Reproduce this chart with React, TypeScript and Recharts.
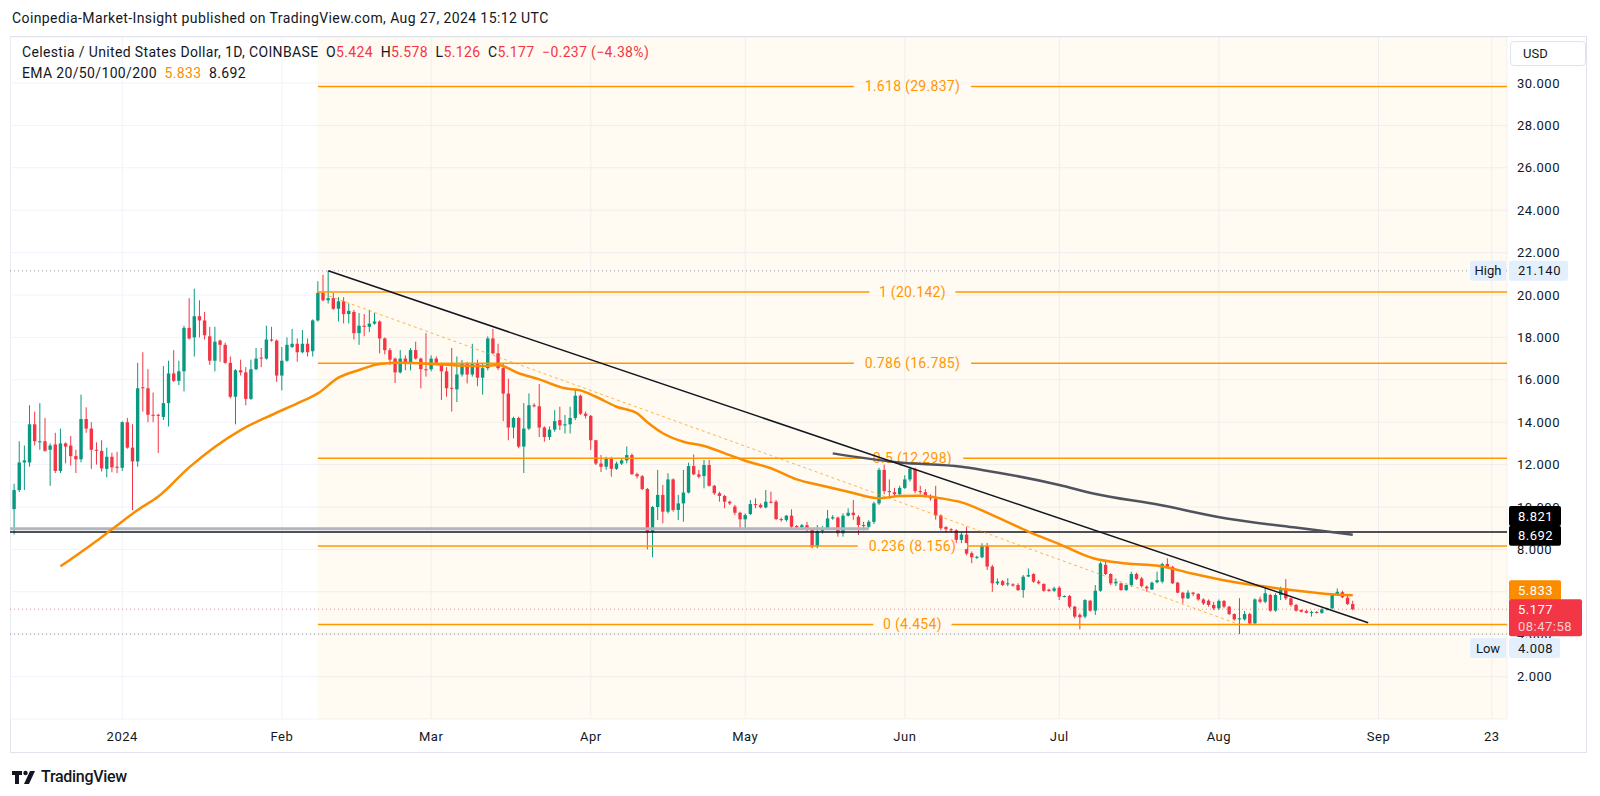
import React from 'react'
import {
  ComposedChart,
  Bar,
  Line,
  XAxis,
  YAxis,
  CartesianGrid,
  ReferenceLine,
  ReferenceArea,
} from 'recharts'

// day 0 = 1 Jan 2024, first candle = 11 Dec 2023
const START_DAY = -21

// daily candles [open, high, low, close]
const candles: [number, number, number, number][] = [
  // Dec 2023
  [9.9, 11.1, 8.7, 10.8], [10.8, 13.1, 10.7, 12.1], [12.1, 12.9, 10.8, 12.2], [12.1, 14.8, 11.9, 13.9],
  [13.9, 14.5, 12.9, 13.1], [13.05, 14.9, 12.7, 13.1], [13.1, 14.2, 12.6, 12.65], [12.7, 13.0, 11.0, 12.9],
  [12.95, 13.5, 11.6, 11.7], [11.7, 13.7, 11.6, 13.0], [13.0, 13.05, 12.06, 12.85], [12.9, 13.35, 11.95, 12.4],
  [12.4, 12.7, 11.6, 12.25], [12.25, 15.3, 12.1, 14.15], [14.15, 14.7, 13.5, 13.7], [13.7, 14.0, 11.8, 12.7],
  [12.7, 13.05, 12.0, 12.65], [12.65, 13.15, 11.67, 11.82], [11.8, 12.8, 11.4, 12.37], [12.37, 12.56, 11.64, 11.87],
  [11.9, 12.6, 11.6, 11.85],
  // Jan
  [11.85, 14.05, 11.7, 14.0], [14.0, 14.2, 12.75, 12.8], [12.8, 13.9, 9.85, 12.15], [12.15, 16.8, 11.9, 15.6],
  [15.65, 17.3, 14.5, 15.6], [15.6, 16.5, 14.0, 14.35], [14.35, 15.4, 14.0, 14.3], [14.35, 14.4, 12.55, 14.3],
  [14.25, 16.65, 14.1, 14.9], [14.9, 16.9, 13.8, 16.3], [16.3, 17.4, 15.9, 15.95], [15.95, 16.9, 15.75, 16.4],
  [16.4, 18.55, 15.45, 18.45], [18.45, 19.85, 17.9, 17.95], [18.0, 20.3, 17.1, 19.0], [19.0, 19.75, 18.0, 18.8],
  [18.8, 19.2, 17.9, 18.1], [18.05, 18.5, 16.7, 16.9], [16.9, 18.5, 16.4, 17.8], [17.85, 17.9, 16.85, 17.65],
  [17.65, 17.75, 16.75, 16.8], [16.8, 17.1, 15.12, 15.2], [15.2, 16.5, 13.9, 16.45], [16.45, 16.95, 16.2, 16.35],
  [16.35, 16.6, 14.8, 15.1], [15.1, 16.95, 15.05, 16.5], [16.5, 17.5, 16.45, 17.0], [17.05, 17.5, 16.6, 17.0],
  [17.0, 18.55, 16.95, 17.9], [17.9, 18.5, 17.8, 17.85], [17.85, 17.9, 15.9, 16.2],
  // Feb
  [16.2, 17.55, 15.5, 16.9], [16.9, 18.0, 16.85, 17.65], [17.55, 18.4, 17.5, 17.7], [17.7, 17.95, 16.85, 17.3],
  [17.3, 18.35, 17.25, 17.7], [17.7, 17.95, 17.1, 17.3], [17.35, 18.85, 17.1, 18.8], [18.8, 20.65, 18.75, 20.1],
  [20.1, 20.95, 19.7, 19.75], [19.75, 21.14, 19.6, 19.85], [19.85, 20.1, 19.3, 19.35], [19.35, 19.9, 18.75, 19.7],
  [19.7, 19.9, 18.66, 19.1], [19.1, 19.6, 18.66, 19.25], [19.2, 19.3, 17.9, 18.2], [18.2, 19.15, 17.65, 18.55],
  [18.55, 19.1, 18.05, 18.5], [18.5, 19.3, 18.25, 18.65], [18.65, 19.15, 18.6, 18.75], [18.75, 18.8, 17.25, 17.95],
  [17.95, 18.0, 17.2, 17.4], [17.4, 17.5, 16.7, 16.95], [17.0, 17.05, 15.85, 16.35], [16.35, 17.4, 16.3, 17.0],
  [17.0, 17.15, 16.45, 16.75], [16.75, 17.5, 16.45, 17.4], [17.4, 17.8, 16.95, 17.0], [17.0, 17.05, 15.6, 16.5],
  [16.5, 18.2, 16.15, 16.45],
  // Mar
  [16.5, 17.15, 16.4, 17.0], [17.0, 17.1, 16.7, 16.8], [16.75, 16.8, 15.05, 16.4], [16.4, 16.6, 15.2, 15.6],
  [15.62, 17.5, 14.5, 15.6], [15.55, 17.1, 14.95, 16.25], [16.25, 16.93, 16.15, 16.75], [16.75, 16.85, 15.83, 16.25],
  [16.25, 17.7, 16.15, 16.75], [16.75, 16.95, 15.7, 16.1], [16.1, 16.8, 15.3, 16.55], [16.55, 18.05, 16.45, 17.95],
  [17.95, 18.4, 17.2, 17.25], [17.25, 17.7, 16.46, 16.55], [16.55, 16.8, 14.05, 15.35], [15.35, 16.05, 13.15, 13.75],
  [13.75, 14.26, 13.24, 14.2], [14.2, 14.26, 12.77, 12.85], [12.85, 14.9, 11.6, 13.7], [13.7, 15.36, 13.63, 14.8],
  [14.8, 14.9, 14.7, 14.75], [14.75, 15.8, 13.3, 13.75], [13.75, 13.8, 13.08, 13.3], [13.3, 13.8, 13.16, 13.65],
  [13.65, 14.57, 13.55, 14.05], [14.1, 14.73, 13.63, 13.85], [13.85, 14.34, 13.47, 13.9], [13.9, 14.73, 13.47, 14.2],
  [14.2, 15.52, 14.1, 15.25], [15.25, 15.3, 14.34, 14.4], [14.4, 14.5, 14.18, 14.3],
  // Apr
  [14.3, 14.34, 12.69, 13.15], [13.15, 13.16, 11.98, 12.05], [12.05, 12.45, 11.65, 11.9], [11.9, 12.37, 11.75, 12.3],
  [12.3, 12.37, 11.43, 11.8], [11.8, 12.14, 11.75, 12.05], [12.05, 12.3, 11.98, 12.2], [12.2, 12.85, 12.06, 12.45],
  [12.45, 12.53, 11.51, 11.55], [11.55, 11.62, 11.35, 11.45], [11.45, 11.51, 10.8, 10.85], [10.85, 10.9, 8.0, 8.8],
  [8.8, 10.05, 7.63, 10.0], [10.0, 11.75, 9.39, 10.57], [10.57, 11.04, 9.23, 9.78], [9.78, 11.59, 9.7, 11.3],
  [11.3, 11.35, 9.78, 9.86], [9.86, 10.57, 9.39, 10.17], [10.17, 11.75, 9.31, 10.68], [10.68, 12.09, 10.64, 11.93],
  [11.93, 12.48, 11.5, 11.54], [11.54, 11.75, 11.35, 11.43], [11.46, 12.22, 10.88, 11.98], [11.98, 12.22, 10.96, 11.0],
  [11.0, 11.04, 10.57, 10.65], [10.65, 10.72, 10.25, 10.52], [10.52, 10.57, 9.94, 10.25], [10.25, 10.3, 10.1, 10.17],
  [10.02, 10.1, 9.62, 9.73], [9.73, 9.78, 8.92, 9.42],
  // May
  [9.42, 9.7, 8.92, 9.62], [9.67, 10.33, 9.62, 10.14], [10.14, 10.41, 9.94, 10.1], [10.1, 10.17, 9.94, 9.98],
  [9.98, 10.8, 9.94, 10.25], [10.25, 10.72, 10.17, 10.2], [10.25, 10.33, 9.39, 9.43], [9.43, 9.5, 9.31, 9.39],
  [9.39, 9.62, 9.31, 9.59], [9.59, 9.89, 8.99, 9.07], [9.1, 9.15, 8.98, 9.04], [9.04, 9.2, 8.98, 9.14],
  [9.14, 9.3, 8.84, 8.92], [8.92, 9.0, 8.05, 8.13], [8.13, 9.15, 8.05, 8.87], [8.87, 9.1, 8.75, 9.0],
  [9.0, 9.86, 8.95, 9.46], [9.46, 9.62, 9.4, 9.52], [9.5, 9.55, 8.6, 8.76], [8.76, 9.7, 8.6, 9.59],
  [9.59, 9.94, 9.55, 9.73], [9.73, 10.33, 9.4, 9.62], [9.54, 9.62, 8.68, 9.15], [9.15, 9.3, 8.9, 9.1],
  [9.07, 9.38, 9.0, 9.3], [9.3, 10.25, 9.2, 10.17], [10.17, 11.85, 10.1, 11.75], [11.75, 12.0, 10.6, 10.75],
  [10.75, 11.3, 10.4, 10.7], [10.7, 10.9, 10.5, 10.6], [10.6, 11.0, 10.5, 10.9],
  // Jun
  [10.9, 11.5, 10.85, 11.3], [11.3, 11.9, 11.2, 11.8], [11.8, 11.85, 10.65, 10.75], [10.75, 11.0, 10.6, 10.7],
  [10.7, 10.85, 10.45, 10.5], [10.5, 10.6, 10.3, 10.4], [10.4, 11.0, 9.4, 9.6], [9.6, 9.65, 8.9, 9.0],
  [9.05, 9.1, 8.8, 8.95], [8.95, 9.0, 8.8, 8.9], [8.9, 8.95, 8.3, 8.45], [8.45, 8.8, 8.2, 8.7],
  [8.7, 9.07, 7.72, 7.8], [7.82, 7.9, 7.35, 7.63], [7.63, 7.7, 7.55, 7.65], [7.63, 8.29, 7.58, 8.18],
  [8.18, 8.3, 7.03, 7.19], [7.19, 7.27, 6.0, 6.4], [6.4, 6.63, 6.32, 6.48], [6.5, 6.56, 6.27, 6.32],
  [6.35, 6.64, 6.27, 6.4], [6.35, 6.4, 6.25, 6.29], [6.32, 6.4, 6.04, 6.08], [6.08, 6.79, 5.72, 6.71],
  [6.72, 7.1, 6.7, 6.79], [6.84, 6.87, 6.43, 6.48], [6.48, 6.56, 6.35, 6.4], [6.37, 6.4, 6.0, 6.05],
  [6.1, 6.15, 6.0, 6.04], [6.05, 6.24, 6.0, 6.16],
  // Jul
  [6.19, 6.27, 5.61, 5.77], [5.77, 5.83, 5.74, 5.8], [5.8, 5.85, 5.22, 5.3], [5.3, 5.33, 4.75, 4.83],
  [4.91, 4.99, 4.23, 4.8], [4.83, 5.65, 4.75, 5.61], [5.58, 5.61, 5.06, 5.11], [5.11, 6.32, 4.91, 6.05],
  [6.05, 7.42, 6.0, 7.34], [7.27, 7.42, 6.79, 6.84], [6.84, 6.87, 6.32, 6.4], [6.4, 6.63, 6.27, 6.48],
  [6.4, 6.43, 6.05, 6.08], [6.08, 6.35, 6.04, 6.32], [6.32, 6.95, 6.24, 6.84], [6.84, 6.9, 6.56, 6.6],
  [6.63, 6.7, 6.2, 6.27], [6.24, 6.3, 6.0, 6.16], [6.11, 6.48, 6.08, 6.43], [6.45, 6.95, 6.4, 6.55],
  [6.48, 7.37, 6.4, 7.31], [7.31, 7.58, 7.15, 7.18], [7.18, 7.22, 6.37, 6.4], [6.43, 6.47, 5.93, 5.96],
  [5.96, 6.0, 5.45, 5.69], [5.69, 6.08, 5.66, 5.96], [5.96, 6.0, 5.8, 5.9], [5.9, 5.93, 5.58, 5.64],
  [5.64, 5.69, 5.38, 5.45], [5.58, 5.64, 5.3, 5.38], [5.38, 5.53, 5.14, 5.22],
  // Aug
  [5.22, 5.64, 5.14, 5.57], [5.57, 5.61, 5.22, 5.3], [5.3, 5.33, 4.9, 4.95], [4.95, 4.98, 4.64, 4.7],
  [4.7, 5.7, 4.008, 4.75], [4.7, 5.1, 4.64, 4.95], [4.95, 5.01, 4.48, 4.51], [4.51, 5.69, 4.48, 5.64],
  [5.64, 5.77, 5.46, 5.53], [5.53, 6.24, 5.46, 5.93], [5.85, 5.9, 5.06, 5.11], [5.11, 5.93, 5.06, 5.85],
  [5.85, 6.24, 5.61, 6.16], [6.16, 6.6, 5.61, 5.69], [5.69, 5.74, 5.3, 5.38], [5.38, 5.43, 5.06, 5.11],
  [5.14, 5.17, 5.03, 5.06], [5.09, 5.14, 4.98, 5.01], [5.01, 5.11, 4.83, 5.05], [5.05, 5.09, 4.98, 5.01],
  [5.01, 5.22, 4.96, 5.17], [5.17, 5.25, 5.12, 5.22], [5.22, 5.93, 5.17, 5.9], [5.9, 6.16, 5.88, 6.0],
  [5.98, 6.05, 5.7, 5.74], [5.72, 5.85, 5.38, 5.42], [5.424, 5.578, 5.126, 5.177],
]

// EMA: [day, value]
const emaFast: [number, number][] = [
  [-12, 7.2], [-5, 8.4], [-2, 8.95], [3, 9.86], [7, 10.49], [13, 11.87], [23, 13.63], [29, 14.34],
  [34, 14.89], [38, 15.36], [42, 16.1], [46, 16.46], [50, 16.75], [54, 16.8], [60, 16.75], [65, 16.68],
  [70, 16.65], [73, 16.7], [77, 16.31], [81, 16.02], [86, 15.6], [89, 15.5], [92, 15.2], [96, 14.73],
  [100, 14.42], [102, 14.0], [105, 13.48], [109, 13.08], [113, 12.88], [118, 12.45], [121, 12.18],
  [126, 11.83], [131, 11.3], [136, 11.0], [141, 10.72], [147, 10.41], [151, 10.52], [155, 10.53],
  [159, 10.41], [163, 10.22], [169, 9.62], [176, 8.84], [182, 8.25], [188.6, 7.58], [195, 7.34],
  [201.5, 7.22], [208, 6.85], [215, 6.5], [221, 6.28], [227, 6.08], [234, 5.9], [239, 5.833],
]
const emaSlow: [number, number][] = [
  [138, 12.53], [151, 12.1], [163, 11.9], [167, 11.75], [182, 11.04], [188.6, 10.64],
  [201.6, 10.09], [214.5, 9.46], [227.5, 9.04], [239, 8.692],
]

const fibRatios = ['1.618', '1', '0.786', '0.5', '0.236', '0']
const fibPrices = [29.837, 20.142, 16.785, 12.298, 8.156, 4.454]
const FIB_START = 38 // 8 Feb
const FIB_END = 217 // 5 Aug

const monthTicks = [0, 31, 60, 91, 121, 152, 182, 213, 244, 266]
const monthLabels = ['2024', 'Feb', 'Mar', 'Apr', 'May', 'Jun', 'Jul', 'Aug', 'Sep', '23']
const priceTicks = [2, 4, 6, 8, 10, 12, 14, 16, 18, 20, 22, 24, 26, 28, 30]

const HIGH = 21.14
const LOW = 4.008
const LAST = 5.177
const H_LINE = 8.821
const GRAY_LINE = 8.98
const TREND_START: [number, number] = [40, 21.14]
const TREND_END: [number, number] = [242, 4.54]

const X_MIN = -21.8
const X_MAX = 268.96
const Y_MIN = 0
const Y_MAX = 32.17

const UP = '#089981'
const DOWN = '#f23645'
const FIB = '#ff9800'
const EMA_ORANGE = '#fb8c00'
const FONT = "Roboto, 'Noto Sans', sans-serif"
const CHART_W = 1577
const CHART_H = 716

const data = candles.map(([open, high, low, close], i) => ({
  day: START_DAY + i,
  open,
  high,
  low,
  close,
  range: [low, high],
}))
const fastData = emaFast.map(([day, v]) => ({ day, v }))
const slowData = emaSlow.map(([day, v]) => ({ day, v }))

function Candle(props: any) {
  const { x, y, width, height, payload } = props
  if (!payload || height == null) return null
  const { open, close, high, low } = payload
  const top = Math.min(y, y + height)
  const h = Math.abs(height)
  const k = h / (high - low)
  const py = (v: number) => top + (high - v) * k
  const cx = x + width / 2
  const color = close >= open ? UP : DOWN
  const bodyTop = py(Math.max(open, close))
  const bodyH = Math.max(1, Math.abs(py(open) - py(close)))
  return (
    <g>
      <line x1={cx} x2={cx} y1={top} y2={top + h} stroke={color} strokeWidth={1} />
      <rect x={cx - 1.7} y={bodyTop} width={3.4} height={bodyH} fill={color} />
    </g>
  )
}

function FibLabel(props: any) {
  const { viewBox, text } = props
  if (!viewBox) return null
  const cx = viewBox.x + viewBox.width / 2
  const w = text.length * 7.8 + 8
  return (
    <g>
      <rect x={cx - w / 2} y={viewBox.y - 3} width={w} height={6} fill="#fffaf3" />
      <text x={cx} y={viewBox.y} dy="0.35em" textAnchor="middle" fontSize={14} letterSpacing={0.3} fill={FIB}>
        {text}
      </text>
    </g>
  )
}

function Badge(props: any) {
  const { viewBox, text, sub, bg, color, w, dy = 0, tag } = props
  if (!viewBox) return null
  const right = viewBox.x + viewBox.width
  const x0 = right + 2
  const yc = viewBox.y + dy
  const h = sub ? 37 : 20
  return (
    <g>
      {tag && (
        <g>
          <rect x={right - 37} y={yc - 10} width={36} height={20} rx={2} fill={bg} />
          <text x={right - 19} y={yc} dy="0.35em" textAnchor="middle" fontSize={13} fill={color}>
            {tag}
          </text>
        </g>
      )}
      <rect x={x0} y={yc - 10} width={w} height={h} rx={2} fill={bg} />
      <text x={x0 + 9} y={yc} dy="0.35em" fontSize={13} letterSpacing={0.5} fill={color}>
        {text}
      </text>
      {sub && (
        <text x={x0 + 9} y={yc + 17} dy="0.35em" fontSize={13} letterSpacing={0.5} fill={color} fillOpacity={0.75}>
          {sub}
        </text>
      )}
    </g>
  )
}

function TvLogo() {
  return (
    <svg width={26} height={16} viewBox="0 0 26 16">
      <path d="M0 2h10v4H7v9H3V6H0z" fill="#131722" />
      <circle cx={13.5} cy={4} r={2.2} fill="#131722" />
      <path d="M18 2h5l-6 13h-5z" fill="#131722" />
    </svg>
  )
}

// same plot geometry for both layers
function axes(showTicks: boolean) {
  return [
    <XAxis
      key="x"
      dataKey="day"
      type="number"
      domain={[X_MIN, X_MAX]}
      allowDataOverflow
      ticks={monthTicks}
      interval={0}
      tickFormatter={(d: number) => monthLabels[monthTicks.indexOf(d)] ?? ''}
      axisLine={false}
      tickLine={false}
      tickSize={6}
      tickMargin={7}
      height={34}
      tick={showTicks ? { fill: '#131722', fontSize: 13, letterSpacing: 0.5 } : false}
    />,
    <YAxis
      key="y"
      orientation="right"
      type="number"
      domain={[Y_MIN, Y_MAX]}
      allowDataOverflow
      ticks={priceTicks}
      interval={0}
      tickFormatter={(v: number) => v.toFixed(3)}
      axisLine={false}
      tickLine={false}
      tickSize={6}
      tickMargin={4}
      width={80}
      tick={showTicks ? { fill: '#131722', fontSize: 13, letterSpacing: 0.5 } : false}
    />,
  ]
}

export default function App() {
  return (
    <div
      style={{
        position: 'absolute',
        left: 0,
        top: 0,
        width: 1600,
        height: 796,
        background: '#ffffff',
        fontFamily: FONT,
        color: '#131722',
        overflow: 'hidden',
      }}
    >
      <div style={{ position: 'absolute', left: 12, top: 10, fontSize: 14, lineHeight: '16px', letterSpacing: 0.4 }}>
        Coinpedia-Market-Insight published on TradingView.com, Aug 27, 2024 15:12 UTC
      </div>

      <div
        style={{
          position: 'absolute',
          left: 10,
          top: 36,
          width: 1577,
          height: 717,
          border: '1px solid #e0e3eb',
          boxSizing: 'border-box',
        }}
      />

      {/* main layer */}
      <div style={{ position: 'absolute', left: 10, top: 37 }}>
        <ComposedChart width={CHART_W} height={CHART_H} data={data} margin={{ top: 0, right: 0, bottom: 0, left: 0 }}>
          <ReferenceArea x1={FIB_START} x2={X_MAX} y1={Y_MIN} y2={Y_MAX} fill={FIB} fillOpacity={0.05} stroke="none" ifOverflow="visible" />
          <CartesianGrid stroke="#f0f3fa" />
          {axes(true)}

          {fibPrices.map((p, i) => (
            <ReferenceLine
              key={fibRatios[i]}
              segment={[{ x: FIB_START, y: p }, { x: X_MAX, y: p }]}
              stroke={FIB}
              strokeWidth={1.5}
              ifOverflow="visible"
              label={<FibLabel text={`${fibRatios[i]} (${p.toFixed(3)})`} />}
            />
          ))}

          <ReferenceLine y={HIGH} stroke="#9598a1" strokeDasharray="1 3" />
          <ReferenceLine y={LOW} stroke="#9598a1" strokeDasharray="1 3" />
          <ReferenceLine y={LAST} stroke={DOWN} strokeOpacity={0.6} strokeDasharray="1 3" />
          <ReferenceLine
            segment={[{ x: X_MIN, y: GRAY_LINE }, { x: 145, y: GRAY_LINE }]}
            stroke="#b2b5be"
            strokeWidth={3}
            ifOverflow="visible"
          />
          <ReferenceLine y={H_LINE} stroke="#131722" strokeWidth={1.5} />

          <Bar dataKey="range" barSize={4} shape={Candle} isAnimationActive={false} />

          <Line
            data={fastData}
            dataKey="v"
            type="monotone"
            stroke={EMA_ORANGE}
            strokeWidth={2.5}
            dot={false}
            isAnimationActive={false}
          />
          <Line
            data={slowData}
            dataKey="v"
            type="monotone"
            stroke="#50535e"
            strokeWidth={2.5}
            dot={false}
            isAnimationActive={false}
          />

          <ReferenceLine
            segment={[{ x: FIB_START, y: fibPrices[1] }, { x: FIB_END, y: fibPrices[5] }]}
            stroke={FIB}
            strokeOpacity={0.7}
            strokeDasharray="3 3"
            ifOverflow="visible"
          />
          <ReferenceLine
            segment={[
              { x: TREND_START[0], y: TREND_START[1] },
              { x: TREND_END[0], y: TREND_END[1] },
            ]}
            stroke="#131722"
            strokeWidth={1.5}
            ifOverflow="visible"
          />
        </ComposedChart>
      </div>

      {/* price badges drawn above the axis labels */}
      <div style={{ position: 'absolute', left: 10, top: 37 }}>
        <ComposedChart width={CHART_W} height={CHART_H} data={data} margin={{ top: 0, right: 0, bottom: 0, left: 0 }}>
          {axes(false)}
          <ReferenceLine y={HIGH} stroke="none" label={<Badge text="21.140" tag="High" bg="#e3effd" color="#131722" w={59} />} />
          <ReferenceLine y={LOW} stroke="none" label={<Badge text="4.008" tag="Low" bg="#e3effd" color="#131722" w={51} dy={14} />} />
          <ReferenceLine y={H_LINE} stroke="none" label={<Badge text="8.821" bg="#000000" color="#ffffff" w={52} dy={-16} />} />
          <ReferenceLine y={emaSlow[emaSlow.length - 1][1]} stroke="none" label={<Badge text="8.692" bg="#000000" color="#ffffff" w={52} dy={1} />} />
          <ReferenceLine y={emaFast[emaFast.length - 1][1]} stroke="none" label={<Badge text="5.833" bg={EMA_ORANGE} color="#ffffff" w={52} dy={-5} />} />
          <ReferenceLine y={LAST} stroke="none" label={<Badge text="5.177" sub="08:47:58" bg={DOWN} color="#ffffff" w={73} />} />
        </ComposedChart>
      </div>

      <div style={{ position: 'absolute', left: 22, top: 44, fontSize: 14, lineHeight: '16px', letterSpacing: 0.35, whiteSpace: 'pre' }}>
        <span>Celestia / United States Dollar, 1D, COINBASE  </span>
        <span>O</span><span style={{ color: DOWN }}>5.424  </span>
        <span>H</span><span style={{ color: DOWN }}>5.578  </span>
        <span>L</span><span style={{ color: DOWN }}>5.126  </span>
        <span>C</span><span style={{ color: DOWN }}>5.177  −0.237 (−4.38%)</span>
      </div>
      <div style={{ position: 'absolute', left: 22, top: 65, fontSize: 14, lineHeight: '16px', letterSpacing: 0.35, whiteSpace: 'pre' }}>
        <span>EMA 20/50/100/200  </span>
        <span style={{ color: EMA_ORANGE }}>5.833  </span>
        <span>8.692</span>
      </div>

      <div
        style={{
          position: 'absolute',
          left: 1510,
          top: 41,
          width: 76,
          height: 25,
          border: '1px solid #e0e3eb',
          borderRadius: 4,
          boxSizing: 'border-box',
          fontSize: 13,
          lineHeight: '23px',
          paddingLeft: 12,
          background: '#fff',
        }}
      >
        USD
      </div>

      <div style={{ position: 'absolute', left: 12, top: 767, display: 'flex', alignItems: 'center', gap: 3 }}>
        <TvLogo />
        <span style={{ fontSize: 16, fontWeight: 500, letterSpacing: -0.3 }}>TradingView</span>
      </div>
    </div>
  )
}
